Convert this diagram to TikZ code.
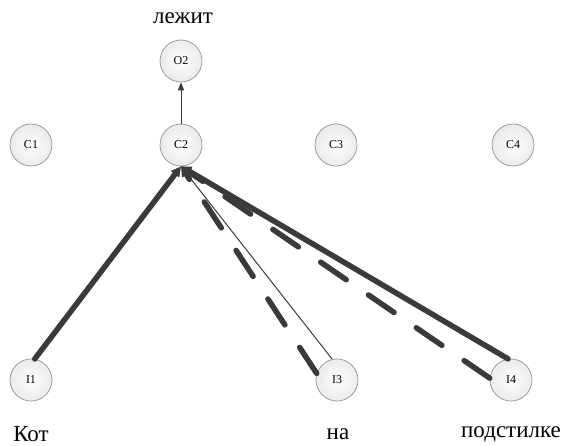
\documentclass[tikz,border=0pt]{standalone}
\usepackage{fontspec}
\setmainfont{Liberation Serif}
\usetikzlibrary{arrows.meta}
\definecolor{edgecol}{HTML}{3A3A3A}
\tikzset{
  vert/.style={circle, minimum size=42pt, inner sep=0pt, draw=gray!85, line width=0.7pt,
    inner color=white, outer color=gray!16, font=\fontsize{12}{13}\selectfont},
  word/.style={font=\fontsize{23}{25}\selectfont, inner sep=0pt},
  thickedge/.style={draw=edgecol, line width=5.5pt, line cap=round, -{Triangle[length=10pt,width=10pt]}},
  dashedge/.style={thickedge, dash pattern=on 31pt off 27pt},
  thinedge/.style={draw=edgecol, line width=1pt, -{Triangle[length=8pt,width=6pt]}}
}
\begin{document}
\begin{tikzpicture}[x=1pt,y=-1pt]
\useasboundingbox (0,0) rectangle (564,446);
\node[vert] (O2) at (181,61) {O2};
\node[vert] (C1) at (31,145) {C1};
\node[vert] (C2) at (181,145) {C2};
\node[vert] (C3) at (336,145) {C3};
\node[vert] (C4) at (513,145) {C4};
\node[vert] (I1) at (31,380) {I1};
\node[vert] (I3) at (337,380) {I3};
\node[vert] (I4) at (511,380) {I4};
\node[word] (w0) at (183,18) {лежит};
\node[word] (w1) at (31,434) {Кот};
\node[word] (w3) at (338,434) {на};
\node[word] (w4) at (511,434) {подстилке};
\draw[thinedge] (C2) -- (O2);
\draw[thickedge] (I1.80) -- (C2.south);
\draw[dashedge] (I3.162) -- (C2.south);
\draw[thinedge] (I3.103) -- (C2.south);
\draw[thickedge] (I4.98) -- (C2.south);
\draw[dashedge] (I4.175) -- (C2.south);
\end{tikzpicture}
\end{document}
